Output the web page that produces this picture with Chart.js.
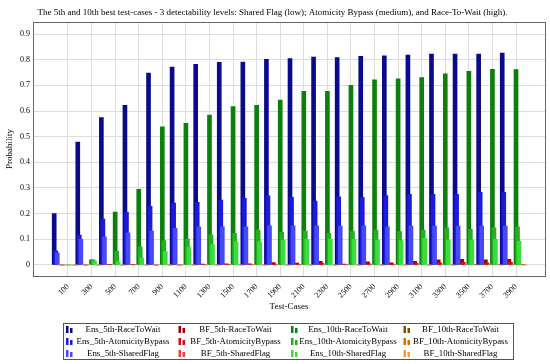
<!DOCTYPE html>
<html>
<head>
<meta charset="utf-8">
<script src="https://cdn.jsdelivr.net/npm/chart.js@4.4.1/dist/chart.umd.min.js"></script>
<style>
  body { margin: 0; background: #fff; }
  #wrap { width: 550px; height: 364px; }
</style>
</head>
<body>
<div id="wrap"><canvas id="bestChart" width="550" height="364"></canvas></div>
<script>
// x axis categories (number of test-cases)
const testCases = ['100', '300', '500', '700', '900', '1100', '1300', '1500', '1700', '1900',
                   '2100', '2300', '2500', '2700', '2900', '3100', '3300', '3500', '3700', '3900'];
const yTicks = [0, 0.1, 0.2, 0.3, 0.4, 0.5, 0.6, 0.7, 0.8, 0.9];

// Ensemble, 5th best
const ens5Race   = [0.20, 0.479, 0.574, 0.622, 0.748, 0.771, 0.782, 0.790, 0.791, 0.801, 0.804, 0.810, 0.808, 0.813, 0.815, 0.818, 0.822, 0.822, 0.822, 0.826];
const ens5Atom   = [0.055, 0.117, 0.179, 0.205, 0.229, 0.241, 0.244, 0.253, 0.260, 0.269, 0.264, 0.249, 0.266, 0.264, 0.270, 0.275, 0.275, 0.275, 0.283, 0.283];
const ens5Shared = [0.047, 0.100, 0.110, 0.125, 0.132, 0.143, 0.148, 0.149, 0.149, 0.153, 0.153, 0.153, 0.152, 0.153, 0.149, 0.152, 0.152, 0.152, 0.152, 0.152];
// Brute force, 5th best
const bf5Race    = [0, 0, 0.002, 0.002, 0, 0, 0.004, 0.005, 0.005, 0.009, 0.007, 0.014, 0.004, 0.012, 0.008, 0.014, 0.020, 0.022, 0.020, 0.022];
const bf5Atom    = [0, 0, 0.001, 0.001, 0, 0, 0.002, 0.003, 0.002, 0.004, 0.003, 0.006, 0.002, 0.005, 0.004, 0.006, 0.008, 0.010, 0.008, 0.010];
const bf5Shared  = [0, 0, 0, 0, 0, 0, 0, 0, 0, 0, 0, 0, 0, 0, 0, 0, 0, 0, 0, 0];
// Ensemble, 10th best
const ens10Race   = [0, 0.020, 0.206, 0.295, 0.538, 0.552, 0.584, 0.617, 0.622, 0.643, 0.677, 0.677, 0.700, 0.721, 0.725, 0.730, 0.745, 0.755, 0.762, 0.761];
const ens10Atom   = [0, 0.020, 0.053, 0.071, 0.095, 0.101, 0.118, 0.123, 0.136, 0.127, 0.132, 0.123, 0.132, 0.136, 0.130, 0.136, 0.145, 0.139, 0.145, 0.149];
const ens10Shared = [0, 0.015, 0.012, 0.028, 0.052, 0.070, 0.080, 0.090, 0.090, 0.097, 0.100, 0.100, 0.100, 0.097, 0.095, 0.104, 0.097, 0.097, 0.100, 0.092];
// Brute force, 10th best
const bf10Race   = [0, 0, 0, 0, 0, 0, 0, 0, 0, 0, 0, 0, 0, 0, 0, 0, 0, 0.001, 0.002, 0.003];
const bf10Atom   = [0, 0, 0, 0, 0, 0, 0, 0, 0, 0, 0, 0, 0, 0, 0, 0, 0, 0, 0, 0];
const bf10Shared = [0, 0, 0, 0, 0, 0, 0, 0, 0, 0, 0, 0, 0, 0, 0, 0, 0, 0, 0, 0];

const serif = "'Liberation Serif', 'Times New Roman', serif";

// legend order (4 columns, row by row), colour, bar shift in category units, draw order
const series = [
  ['Ens_5th-RaceToWait',         ens5Race,    '#0a0a8c', -0.585, 3],
  ['BF_5th-RaceToWait',          bf5Race,     '#a00000', -0.300, 3],
  ['Ens_10th-RaceToWait',        ens10Race,   '#0c7f0c',  0.000, 3],
  ['BF_10th-RaceToWait',         bf10Race,    '#8b4a00',  0.276, 3],
  ['Ens_5th-AtomicityBypass',    ens5Atom,    '#1a1ae0', -0.520, 2],
  ['BF_5th-AtomicityBypass',     bf5Atom,     '#d01010', -0.235, 2],
  ['Ens_10th-AtomicityBypass',   ens10Atom,   '#22b022',  0.064, 2],
  ['BF_10th-AtomicityBypass',    bf10Atom,    '#d07000',  0.340, 2],
  ['Ens_5th-SharedFlag',         ens5Shared,  '#4848f4', -0.455, 1],
  ['BF_5th-SharedFlag',          bf5Shared,   '#ff3a3a', -0.170, 1],
  ['Ens_10th-SharedFlag',        ens10Shared, '#3ade3a',  0.127, 1],
  ['BF_10th-SharedFlag',         bf10Shared,  '#ff9a30',  0.400, 1]
];

const datasets = series.map(([label, values, color, shift, order]) => ({
  label: label,
  data: values.map((v, i) => ({ x: i + shift, y: v })),
  backgroundColor: color,
  borderWidth: 0,
  barThickness: 4,
  grouped: false,
  order: order
}));

// pgfplots-like legend: fixed grid of 4 columns x 3 rows inside a box
const gridLegend = {
  id: 'gridLegend',
  afterDraw(chart) {
    const ctx = chart.ctx;
    const boxX = 63, boxY = 323, boxW = 450, boxH = 36;
    const colW = boxW / 4, rowH = boxH / 3;
    ctx.save();
    ctx.strokeStyle = '#555';
    ctx.lineWidth = 1;
    ctx.strokeRect(boxX + 0.5, boxY + 0.5, boxW, boxH);
    ctx.font = '8.8px ' + serif;
    ctx.textAlign = 'center';
    ctx.textBaseline = 'middle';
    chart.data.datasets.forEach((ds, i) => {
      const cx = boxX + (i % 4) * colW;
      const cy = boxY + rowH * (Math.floor(i / 4) + 0.5) + 0.5;
      ctx.fillStyle = ds.backgroundColor;
      ctx.fillRect(cx + 3, cy - 3.5, 2.5, 7);
      ctx.fillRect(cx + 7, cy - 1.5, 2.5, 5);
      ctx.fillStyle = '#000';
      ctx.fillText(ds.label, cx + 60, cy);
    });
    ctx.restore();
  }
};

// box round the plot area
const frame = {
  id: 'frame',
  afterDatasetsDraw(chart) {
    const { left, top, width, height } = chart.chartArea;
    const ctx = chart.ctx;
    ctx.save();
    ctx.strokeStyle = '#666';
    ctx.lineWidth = 1;
    ctx.strokeRect(Math.round(left) + 0.5, Math.round(top) + 0.5, Math.round(width), Math.round(height));
    ctx.restore();
  }
};

new Chart(document.getElementById('bestChart').getContext('2d'), {
  type: 'bar',
  data: { datasets: datasets },
  plugins: [gridLegend, frame],
  options: {
    responsive: false,
    animation: false,
    layout: { padding: { top: 0, left: 0, right: 5, bottom: 52 } },
    plugins: {
      legend: { display: false },
      tooltip: { enabled: false },
      title: {
        display: true,
        text: 'The 5th and 10th best test-cases - 3 detectability levels: Shared Flag (low); Atomicity Bypass (medium), and Race-To-Wait (high).',
        color: '#000',
        font: { family: serif, size: 9, weight: 'normal' },
        padding: { top: 7, bottom: 4.4 }
      }
    },
    scales: {
      x: {
        type: 'linear',
        min: -1.484,
        max: 20.229,
        offset: false,
        afterFit: s => { s.height = 36; },
        afterBuildTicks: s => { s.ticks = testCases.map((c, i) => ({ value: i })); },
        grid: { color: '#dcdcdc', drawTicks: false, offset: false },
        border: { display: false },
        ticks: {
          autoSkip: false,
          minRotation: 45,
          maxRotation: 45,
          padding: 6,
          color: '#000',
          font: { family: serif, size: 8 },
          callback: v => testCases[v]
        },
        title: {
          display: true,
          text: 'Test-Cases',
          color: '#000',
          font: { family: serif, size: 9 },
          padding: { top: 0, bottom: 0 }
        }
      },
      y: {
        min: -0.0429,
        max: 0.946,
        afterFit: s => { s.width = 33; },
        afterBuildTicks: s => { s.ticks = yTicks.map(v => ({ value: v })); },
        grid: { color: '#dcdcdc', drawTicks: false },
        border: { display: false },
        ticks: {
          padding: 3,
          color: '#000',
          font: { family: serif, size: 8 },
          callback: v => String(Math.round(v * 10) / 10)
        },
        title: {
          display: true,
          text: 'Probability',
          color: '#000',
          font: { family: serif, size: 9 },
          padding: { top: 4, bottom: 0 }
        }
      }
    }
  }
});
</script>
</body>
</html>
